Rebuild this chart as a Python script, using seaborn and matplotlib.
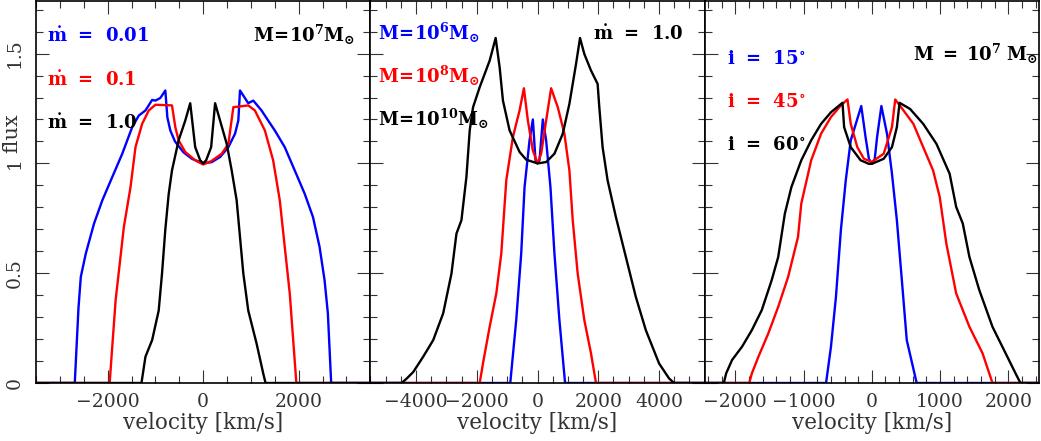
import numpy as np
import pandas as pd
import matplotlib
matplotlib.use("Agg")
import matplotlib.pyplot as plt
import seaborn as sns
from matplotlib.ticker import MultipleLocator

# ---- panel 1: accretion rate (M = 1e7 Msun) ----
v_md001 = [-3500, -2688, -2611, -2562, -2458, -2285, -2111, -1903, -1694, -1486, -1347, -1208,
           -1069, -1000, -896, -792, -750, -688, -590, -410, -236, 0, 181, 354, 528, 667, 736,
           771, 840, 944, 1049, 1222, 1361, 1500, 1708, 1917, 2125, 2299, 2437, 2542, 2611,
           2680, 3500]
f_md001 = [0, 0, 0.34, 0.483, 0.589, 0.726, 0.832, 0.938, 1.044, 1.165, 1.218, 1.241,
           1.289, 1.286, 1.298, 1.332, 1.21, 1.15, 1.10, 1.05, 1.021, 1.0, 1.006, 1.029, 1.074,
           1.135, 1.195, 1.332, 1.309, 1.274, 1.286, 1.241, 1.195, 1.15, 1.074, 0.968, 0.862,
           0.756, 0.62, 0.468, 0.317, 0, 0]

v_md01 = [-3500, -1958, -1833, -1660, -1521, -1417, -1278, -1139, -1000, -653, -583, -514,
          -375, -167, 0, 167, 389, 528, 632, 944, 1083, 1292, 1465, 1604, 1708, 1813, 1951, 3500]
f_md01 = [0, 0, 0.377, 0.711, 0.892, 1.074, 1.18, 1.241, 1.267, 1.264, 1.165, 1.105,
          1.052, 1.014, 0.995, 1.01, 1.044, 1.089, 1.256, 1.264, 1.241, 1.15, 1.014, 0.832,
          0.62, 0.408, 0, 0]

v_md1 = [-3500, -1292, -1208, -1069, -931, -861, -792, -722, -653, -514, -375, -271, -167,
         -62, 0, 62, 167, 250, 354, 493, 597, 701, 840, 944, 1118, 1257, 1306, 3500]
f_md1 = [0, 0, 0.12, 0.195, 0.33, 0.5, 0.70, 0.86, 0.968, 1.105, 1.195, 1.274, 1.074,
         1.014, 1.0, 1.014, 1.074, 1.274, 1.195, 1.089, 0.968, 0.832, 0.5, 0.33, 0.18,
         0.044, 0, 0]

# ---- panel 2: black hole mass (mdot = 1.0) ----
v_m6 = [-5500, -896, -700, -536, -426, -262, -153, -66, 0, 66, 175, 284, 426, 557, 721, 907, 5500]
f_m6 = [0, 0, 0.286, 0.59, 0.892, 1.105, 1.2, 1.014, 1.0, 1.014, 1.2, 1.105, 0.892, 0.59,
        0.286, 0, 0]

v_m8 = [-5500, -1902, -1793, -1574, -1355, -1191, -1027, -809, -590, -448, -317, -153, 0,
        120, 284, 448, 667, 885, 1049, 1159, 1322, 1541, 1760, 1924, 5500]
f_m8 = [0, 0, 0.09, 0.256, 0.408, 0.59, 0.923, 1.12, 1.241, 1.342, 1.195, 1.059, 1.0,
        1.044, 1.195, 1.342, 1.256, 1.135, 0.968, 0.741, 0.498, 0.286, 0.135, 0, 0]

v_m10 = [-5500, -4470, -4306, -4088, -3760, -3432, -3104, -2831, -2667, -2503, -2339, -2230,
         -2120, -1902, -1574, -1377, -1246, -1137, -918, -590, -372, 0, 284, 557, 831, 1049,
         1268, 1399, 1541, 1760, 1978, 2033, 2142, 2306, 2579, 2907, 3235, 3563, 4000, 4328,
         4492, 5500]
f_m10 = [0, 0, 0.02, 0.05, 0.12, 0.195, 0.317, 0.498, 0.68, 0.741, 0.938, 1.15,
         1.256, 1.347, 1.468, 1.571, 1.438, 1.286, 1.15, 1.052, 1.017, 1.0, 1.006, 1.044,
         1.135, 1.271, 1.453, 1.571, 1.498, 1.423, 1.362, 1.256, 1.074, 0.923, 0.756, 0.574,
         0.392, 0.241, 0.089, 0.021, 0, 0]

# ---- panel 3: inclination (M = 1e7 Msun) ----
v_i15 = [-2500, -671, -599, -526, -454, -382, -309, -155, -92, -43, 0, 43, 77, 140, 222,
         295, 367, 440, 512, 657, 2500]
f_i15 = [0, 0, 0.165, 0.392, 0.695, 0.923, 1.105, 1.261, 1.12, 1.021, 0.998, 1.021, 1.12,
         1.261, 1.135, 0.953, 0.741, 0.468, 0.195, 0, 0]

v_i45 = [-2500, -1797, -1758, -1662, -1517, -1372, -1227, -1082, -1034, -889, -744, -599,
         -454, -357, -309, -213, -116, -43, 0, 53, 174, 295, 343, 464, 609, 753, 898, 995,
         1092, 1236, 1430, 1623, 1768, 2500]
f_i45 = [0, 0, 0.044, 0.12, 0.226, 0.347, 0.483, 0.665, 0.817, 1.014, 1.135, 1.211,
         1.264, 1.291, 1.18, 1.074, 1.021, 1.012, 1.006, 1.018, 1.044, 1.165, 1.291, 1.241,
         1.18, 1.074, 0.968, 0.847, 0.635, 0.408, 0.256, 0.135, 0, 0]

v_i60 = [-2500, -2169, -2135, -2048, -1903, -1758, -1613, -1468, -1372, -1275, -1179, -1034,
         -889, -744, -599, -430, -406, -309, -164, -43, 0, 53, 174, 295, 367, 406, 560, 753,
         947, 1140, 1236, 1333, 1430, 1575, 1768, 1961, 2106, 2178, 2500]
f_i60 = [0, 0, 0.044, 0.105, 0.165, 0.241, 0.332, 0.468, 0.574, 0.771, 0.892, 1.014,
         1.105, 1.18, 1.233, 1.276, 1.165, 1.074, 1.014, 0.998, 0.998, 1.005, 1.021, 1.074,
         1.165, 1.276, 1.248, 1.18, 1.089, 0.953, 0.802, 0.726, 0.574, 0.423, 0.256, 0.135,
         0.044, 0, 0]

sns.set_theme(style="ticks")
plt.rcParams["font.family"] = ["DejaVu Serif"]
plt.rcParams["mathtext.fontset"] = "dejavuserif"
plt.rcParams["axes.linewidth"] = 1.2
plt.rcParams["xtick.direction"] = "in"
plt.rcParams["ytick.direction"] = "in"

fig, axes = plt.subplots(1, 3, figsize=(10.41, 4.41), dpi=100)
fig.subplots_adjust(left=36 / 1041, right=1039 / 1041, top=0.998, bottom=58 / 441, wspace=0)

panels = [
    [(v_md001, f_md001, "blue"), (v_md01, f_md01, "red"), (v_md1, f_md1, "black")],
    [(v_m6, f_m6, "blue"), (v_m8, f_m8, "red"), (v_m10, f_m10, "black")],
    [(v_i15, f_i15, "blue"), (v_i45, f_i45, "red"), (v_i60, f_i60, "black")],
]
xlims = [(-3500, 3500), (-5500, 5500), (-2450, 2450)]
xmajor = [2000, 2000, 1000]
xminor = [500, 500, 200]

for ax, curves, xl, mj, mn in zip(axes, panels, xlims, xmajor, xminor):
    for v, f, c in curves:
        sns.lineplot(x=v, y=f, ax=ax, color=c, linewidth=1.7, sort=False, estimator=None)
    ax.set_xlim(*xl)
    ax.set_ylim(0, 1.74)
    ax.xaxis.set_major_locator(MultipleLocator(mj))
    ax.xaxis.set_minor_locator(MultipleLocator(mn))
    ax.set_yticks([0, 0.5, 1, 1.5])
    ax.yaxis.set_minor_locator(MultipleLocator(0.1))
    ax.tick_params(which="both", top=True, right=True, direction="in", colors="#333333",
                   labelcolor="#333333", labelsize=13.5)
    ax.tick_params(which="major", length=9.5, width=0.8)
    ax.tick_params(which="minor", length=5, width=0.8)
    ax.tick_params(axis="x", pad=7)
    ax.set_xlabel("velocity [km/s]", fontsize=15.5, color="#333333", labelpad=1)
    for s in ax.spines.values():
        s.set_color("black")

axes[0].set_yticklabels(["0", "0.5", "1", "1.5"], rotation=90, va="center")
axes[0].tick_params(axis="y", pad=9)
axes[0].set_ylabel("flux", fontsize=15, color="#333333")
axes[0].yaxis.set_label_coords(-0.045, 0.655)
for ax in axes[1:]:
    ax.set_yticklabels([])
    ax.set_ylabel("")

tk = dict(fontsize=13, ha="left", va="baseline")
# panel 1 labels
a = axes[0]
a.text(0.033, 0.893, r"$\mathbf{\dot{m}\ \,=\ \,0.01}$", color="blue", transform=a.transAxes, **tk)
a.text(0.033, 0.778, r"$\mathbf{\dot{m}\ \,=\ \,0.1}$", color="red", transform=a.transAxes, **tk)
a.text(0.033, 0.666, r"$\mathbf{\dot{m}\ \,=\ \,1.0}$", color="black", transform=a.transAxes, **tk)
a.text(0.65, 0.893, r"$\mathbf{M\!=\!10^{7}M_{\odot}}$", color="black", transform=a.transAxes, **tk)
# panel 2 labels
a = axes[1]
a.text(0.024, 0.898, r"$\mathbf{M\!=\!10^{6}M_{\odot}}$", color="blue", transform=a.transAxes, **tk)
a.text(0.024, 0.786, r"$\mathbf{M\!=\!10^{8}M_{\odot}}$", color="red", transform=a.transAxes, **tk)
a.text(0.024, 0.674, r"$\mathbf{M\!=\!10^{10}M_{\odot}}$", color="black", transform=a.transAxes, **tk)
a.text(0.666, 0.898, r"$\mathbf{\dot{m}\ \,=\ \,1.0}$", color="black", transform=a.transAxes, **tk)
# panel 3 labels
a = axes[2]
a.text(0.066, 0.836, r"$\mathbf{i\ \,=\ \,15^{\circ}}$", color="blue", transform=a.transAxes, **tk)
a.text(0.066, 0.723, r"$\mathbf{i\ \,=\ \,45^{\circ}}$", color="red", transform=a.transAxes, **tk)
a.text(0.066, 0.611, r"$\mathbf{i\ \,=\ \,60^{\circ}}$", color="black", transform=a.transAxes, **tk)
a.text(0.623, 0.843, r"$\mathbf{M\ =\ 10^{7}\ M_{\odot}}$", color="black", transform=a.transAxes, **tk)

fig.savefig("out.png", dpi=100)
